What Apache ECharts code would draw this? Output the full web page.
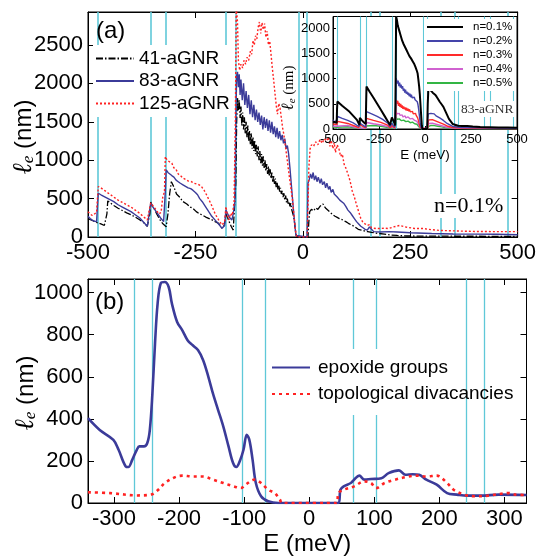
<!DOCTYPE html>
<html><head><meta charset="utf-8">
<script src="https://cdn.jsdelivr.net/npm/echarts@6/dist/echarts.min.js"></script>
<style>html,body{margin:0;padding:0;background:#fff}#c{width:539px;height:557px}</style>
</head><body><div id="c"></div>
<script>
// ---------- data (E in meV, l_e in nm) ----------
const cyanA = [-478, -354, -320, -179, -157, -10, 10, 157, 179, 320, 354, 478];
const cyanB = [-269, -241, -103, -67, 67, 103, 241, 269];
const ticksB = [-300, -200, -100, 0, 100, 200, 300];

const s41 = [[-500,240],[-490,215],[-480,190],[-470,170],[-462,150],[-458,140],[-456,300],[-454,470],[-450,450],[-440,410],[-430,375],[-420,345],[-410,315],[-400,290],[-390,260],[-380,225],[-370,185],[-362,140],[-358,115],[-356,300],[-354,455],[-350,400],[-345,360],[-340,300],[-335,250],[-330,200],[-325,170],[-318,134],[-314,300],[-310,560],[-306,720],[-300,650],[-294,560],[-287,520],[-279,461],[-270,430],[-262,390],[-256,374],[-248,330],[-240,300],[-234,287],[-226,260],[-218,240],[-211,222],[-204,200],[-196,178],[-188,113],[-183,150],[-179,300],[-175,250],[-170,180],[-166,130],[-162,90],[-158,110],[-156,700],[-154,1500],[-152,1810],[-150,1650],[-148,1780],[-146,1550],[-144,1700],[-142,1450],[-140,1620],[-138,1400],[-136,1560],[-134,1350],[-132,1500],[-130,1300],[-128,1450],[-126,1250],[-124,1380],[-122,1200],[-120,1350],[-118,1150],[-116,1300],[-114,1120],[-112,1260],[-110,1080],[-108,1200],[-106,1050],[-104,1180],[-102,1000],[-100,1120],[-98,960],[-96,1080],[-94,930],[-92,1050],[-90,900],[-88,1000],[-86,860],[-84,950],[-82,820],[-80,920],[-78,790],[-76,880],[-74,760],[-72,840],[-70,720],[-68,800],[-66,690],[-64,760],[-62,650],[-60,720],[-58,620],[-56,680],[-54,590],[-52,640],[-50,560],[-48,600],[-46,520],[-44,570],[-42,480],[-40,540],[-38,450],[-36,500],[-34,420],[-32,460],[-30,400],[-28,440],[-26,360],[-24,380],[-22,280],[-20,220],[-18,120],[-16,40],[-14,0],[12,0],[14,200],[16,330],[20,360],[25,340],[30,380],[35,360],[40,400],[44,380],[47,430],[50,400],[54,370],[58,350],[62,330],[66,310],[70,290],[75,270],[80,255],[85,240],[90,230],[95,215],[100,200],[106,178],[112,160],[121,134],[129,100],[136,91],[145,75],[151,70],[160,60],[174,48],[190,38],[204,26],[220,20],[242,13],[300,12],[350,10],[400,10],[450,8],[500,8]];

const s83 = [[-500,270],[-495,240],[-490,220],[-485,205],[-480,200],[-478,400],[-476,570],[-470,550],[-460,520],[-450,490],[-440,460],[-430,420],[-420,390],[-410,360],[-400,330],[-390,290],[-380,250],[-370,190],[-362,140],[-358,120],[-354,440],[-350,400],[-345,360],[-340,320],[-335,280],[-330,240],[-324,200],[-320,600],[-318,875],[-314,840],[-310,850],[-305,800],[-300,780],[-295,740],[-290,720],[-285,700],[-279,680],[-273,660],[-267,640],[-261,630],[-256,610],[-250,580],[-245,550],[-240,500],[-234,460],[-227,400],[-219,330],[-212,270],[-204,220],[-196,170],[-188,113],[-182,150],[-179,350],[-175,300],[-170,250],[-165,222],[-162,300],[-158,460],[-156,1500],[-154,2100],[-152,2150],[-150,1950],[-148,2120],[-146,1850],[-144,2050],[-141,1780],[-138,2000],[-135,1720],[-132,1900],[-129,1680],[-126,1850],[-123,1600],[-120,1780],[-117,1560],[-114,1720],[-111,1520],[-108,1660],[-105,1500],[-102,1620],[-99,1460],[-96,1580],[-93,1400],[-90,1560],[-87,1420],[-84,1540],[-81,1380],[-78,1520],[-75,1360],[-72,1500],[-69,1340],[-66,1440],[-63,1300],[-60,1420],[-57,1280],[-54,1380],[-51,1260],[-48,1330],[-45,1220],[-42,1280],[-39,1150],[-36,1190],[-33,1080],[-30,900],[-27,700],[-24,500],[-21,300],[-18,120],[-16,20],[-14,0],[10,0],[12,700],[15,750],[18,820],[21,760],[24,840],[27,740],[30,800],[33,720],[36,780],[40,700],[43,760],[46,680],[50,720],[53,640],[56,700],[60,620],[63,660],[66,580],[70,620],[73,560],[76,580],[80,520],[83,540],[86,480],[90,500],[95,440],[100,400],[105,350],[110,320],[115,280],[120,240],[125,200],[130,170],[135,140],[140,120],[145,100],[150,90],[155,130],[158,110],[165,70],[180,65],[200,70],[220,65],[250,55],[300,45],[350,40],[400,38],[450,35],[500,30]];

const s125 = [[-500,330],[-495,300],[-490,280],[-485,300],[-480,320],[-478,500],[-476,657],[-470,640],[-460,600],[-450,560],[-440,520],[-430,480],[-420,450],[-410,420],[-400,390],[-390,350],[-380,310],[-370,260],[-362,222],[-358,210],[-354,443],[-350,420],[-345,380],[-340,340],[-335,300],[-330,320],[-326,520],[-322,591],[-320,1048],[-316,1000],[-312,1010],[-305,962],[-300,900],[-295,880],[-290,820],[-285,800],[-279,766],[-273,750],[-267,730],[-260,722],[-253,700],[-247,690],[-241,679],[-235,650],[-230,610],[-226,570],[-218,480],[-211,396],[-204,300],[-196,222],[-188,157],[-182,200],[-179,396],[-176,300],[-172,222],[-168,310],[-164,280],[-160,460],[-157,1500],[-155,3000],[-152,2800],[-150,2300],[-147,2170],[-144,2250],[-140,2200],[-137,2300],[-133,2250],[-130,2340],[-126,2300],[-122,2420],[-119,2380],[-116,2560],[-113,2500],[-110,2620],[-107,2580],[-104,2730],[-101,2800],[-98,2650],[-95,2790],[-92,2700],[-89,2780],[-86,2600],[-83,2680],[-80,2500],[-77,2550],[-74,2380],[-71,2200],[-68,2050],[-65,1880],[-62,1720],[-59,1600],[-56,1740],[-53,1680],[-50,1550],[-47,1420],[-44,1330],[-40,1160],[-36,990],[-32,810],[-28,650],[-24,480],[-20,250],[-17,80],[-14,0],[10,0],[12,400],[14,900],[17,1150],[20,1200],[25,1180],[30,1240],[35,1200],[40,1270],[45,1220],[50,1280],[55,1250],[60,1300],[63,1180],[66,1260],[70,1150],[73,1230],[76,1100],[80,1200],[84,1150],[88,1050],[92,1080],[96,950],[100,900],[105,820],[110,730],[115,600],[120,520],[125,420],[130,330],[135,240],[140,190],[150,150],[155,160],[160,120],[170,110],[180,110],[190,115],[200,110],[210,130],[225,150],[240,130],[260,110],[280,110],[300,95],[320,85],[350,80],[400,72],[450,70],[500,70]];

// inset: 83-aGNR at several concentrations
const n01 = [[-500,150],[-490,130],[-480,120],[-478,400],[-476,545],[-470,520],[-450,460],[-430,400],[-410,340],[-390,260],[-370,180],[-356,80],[-354,220],[-345,180],[-335,140],[-322,100],[-320,500],[-318,840],[-300,735],[-280,620],[-260,500],[-240,380],[-220,260],[-200,140],[-190,80],[-180,230],[-170,150],[-162,70],[-159,1200],[-157,2230],[-152,2150],[-148,2050],[-144,2080],[-140,1950],[-136,1980],[-132,1850],[-128,1880],[-124,1750],[-120,1780],[-116,1680],[-112,1700],[-108,1620],[-104,1640],[-100,1560],[-96,1580],[-92,1500],[-88,1520],[-84,1440],[-80,1460],[-76,1400],[-72,1420],[-68,1350],[-64,1380],[-60,1300],[-56,1320],[-52,1230],[-48,1250],[-44,1150],[-40,1100],[-36,980],[-32,850],[-28,680],[-24,450],[-20,220],[-17,60],[-14,0],[12,0],[15,500],[18,760],[22,740],[27,810],[32,760],[37,780],[42,720],[48,700],[55,680],[63,640],[70,600],[80,540],[90,490],[100,440],[110,360],[120,280],[130,200],[140,150],[150,100],[160,80],[180,65],[200,60],[230,60],[260,50],[300,40],[350,35],[400,30],[450,30],[500,25]];
const n02 = [[-500,180],[-490,120],[-480,100],[-478,200],[-476,250],[-450,210],[-420,170],[-390,120],[-360,50],[-354,120],[-340,80],[-322,40],[-320,250],[-318,343],[-290,300],[-260,250],[-230,190],[-200,110],[-190,50],[-180,110],[-165,40],[-159,500],[-157,1006],[-150,900],[-146,960],[-142,850],[-138,920],[-134,820],[-130,880],[-126,800],[-122,850],[-118,760],[-114,800],[-110,720],[-106,780],[-102,700],[-98,740],[-94,680],[-90,720],[-86,650],[-82,700],[-78,630],[-74,680],[-70,620],[-66,650],[-62,600],[-58,630],[-54,580],[-50,600],[-46,560],[-42,540],[-38,480],[-34,380],[-30,250],[-26,120],[-22,40],[-18,0],[12,0],[15,200],[18,300],[25,290],[32,310],[40,280],[50,300],[60,260],[70,240],[80,220],[90,200],[100,170],[110,140],[120,110],[130,80],[150,50],[200,30],[300,25],[400,20],[500,15]];
const n03 = [[-500,100],[-478,90],[-476,150],[-420,110],[-360,30],[-354,80],[-322,20],[-320,150],[-318,212],[-280,170],[-240,130],[-200,70],[-190,25],[-180,70],[-165,20],[-159,300],[-157,575],[-152,500],[-148,560],[-144,460],[-140,520],[-136,440],[-132,500],[-128,420],[-124,470],[-120,400],[-116,450],[-112,390],[-108,430],[-104,370],[-100,420],[-96,360],[-92,400],[-88,350],[-84,390],[-80,340],[-76,370],[-72,320],[-68,350],[-64,300],[-60,330],[-56,290],[-52,310],[-48,270],[-44,260],[-40,220],[-36,170],[-32,110],[-28,60],[-24,20],[-20,0],[14,0],[17,120],[20,180],[30,170],[40,185],[50,170],[60,155],[70,140],[80,125],[90,110],[100,95],[110,80],[120,60],[130,45],[150,30],[200,20],[300,15],[500,10]];
const n04 = [[-500,60],[-478,55],[-476,90],[-420,70],[-360,20],[-354,50],[-322,15],[-320,90],[-318,130],[-280,105],[-240,80],[-200,45],[-190,15],[-180,40],[-165,15],[-159,180],[-157,343],[-152,300],[-148,330],[-144,280],[-140,310],[-136,270],[-132,300],[-128,250],[-124,280],[-120,240],[-116,270],[-112,230],[-108,260],[-104,220],[-100,250],[-96,215],[-92,240],[-88,205],[-84,230],[-80,200],[-76,220],[-72,190],[-68,210],[-64,180],[-60,200],[-56,170],[-52,185],[-48,160],[-44,150],[-40,130],[-36,100],[-32,70],[-28,35],[-24,10],[-20,0],[14,0],[17,70],[20,110],[30,105],[40,115],[50,105],[60,95],[70,85],[80,75],[90,65],[100,55],[110,45],[120,35],[130,25],[150,18],[200,12],[300,10],[500,8]];
const n05 = [[-500,40],[-478,35],[-476,60],[-420,45],[-360,12],[-354,30],[-322,10],[-320,60],[-318,85],[-280,70],[-240,55],[-200,30],[-190,10],[-180,25],[-165,10],[-159,120],[-157,230],[-152,190],[-148,220],[-144,180],[-140,200],[-136,170],[-132,195],[-128,165],[-124,185],[-120,155],[-116,175],[-112,150],[-108,170],[-104,145],[-100,160],[-96,140],[-92,155],[-88,130],[-84,150],[-80,125],[-76,140],[-72,120],[-68,135],[-64,115],[-60,125],[-56,105],[-52,115],[-48,100],[-44,95],[-40,80],[-36,60],[-32,40],[-28,20],[-24,5],[-20,0],[14,0],[17,45],[20,70],[30,68],[40,75],[50,68],[60,62],[70,55],[80,48],[90,42],[100,35],[110,28],[120,22],[130,16],[150,12],[200,8],[300,6],[500,5]];

// panel (b)
const epoxide = [[-340,403],[-322,347],[-301,300],[-293,253],[-282,174],[-278,171],[-272,205],[-265,253],[-261,269],[-254,269],[-249,284],[-245,347],[-241,521],[-237,758],[-233,948],[-228,1046],[-222,1051],[-216,1027],[-211,948],[-203,861],[-195,821],[-187,774],[-179,750],[-171,727],[-163,679],[-155,600],[-148,521],[-140,442],[-132,363],[-124,269],[-117,190],[-112,171],[-106,205],[-101,253],[-96,324],[-92,300],[-87,205],[-82,95],[-74,32],[-63,8],[-47,0],[45,0],[48,63],[53,79],[64,95],[69,111],[77,130],[85,111],[95,114],[111,118],[122,142],[138,155],[148,134],[159,137],[169,134],[180,111],[196,87],[212,47],[227,40],[243,35],[264,35],[291,40],[334,38]];
const divac = [[-340,51],[-306,47],[-264,36],[-243,40],[-232,63],[-222,95],[-206,123],[-195,130],[-179,126],[-163,126],[-148,111],[-132,95],[-116,79],[-105,71],[-98,87],[-84,111],[-74,95],[-63,63],[-53,47],[-45,16],[-42,0],[42,0],[45,47],[53,63],[69,79],[85,103],[95,95],[103,71],[116,95],[132,111],[148,123],[164,130],[180,126],[196,130],[212,95],[222,63],[238,40],[254,32],[275,35],[307,47],[317,40],[334,38]];

// ---------- styles ----------
const SANS = 'Liberation Sans, Arial, Helvetica, sans-serif';
const SERIF = 'Liberation Serif, Times New Roman, serif';
const CYAN = '#5fc8d8';
const BLUE = '#3b3b99';
const RED = '#ff2222';
const plain = function (v) { return String(v); };

function vlines(list, width, z) {
  return { silent: true, symbol: ['none', 'none'], z: z, label: { show: false },
    lineStyle: { color: CYAN, width: width, type: 'solid' }, emphasis: { disabled: true },
    data: list.map(function (v) { return { xAxis: v }; }) };
}
function line(name, data, xi, yi, color, width, type, z, extra) {
  const s = { type: 'line', name: name, data: data, xAxisIndex: xi, yAxisIndex: yi, symbol: 'none',
    showSymbol: false, lineStyle: { color: color, width: width, type: type }, itemStyle: { color: color },
    z: z, clip: true, animation: false, emphasis: { disabled: true } };
  return Object.assign(s, extra || {});
}
const tickStyle = { inside: true, length: 6, lineStyle: { color: '#000', width: 1 } };
const axLine = { onZero: false, lineStyle: { color: '#000', width: 1 } };
const bigLabel = { fontSize: 22, color: '#000', fontFamily: SANS, fontWeight: 'normal', formatter: plain };

const option = {
  animation: false,
  backgroundColor: '#fff',
  grid: [
    { left: 88, top: 12, width: 443, height: 225, show: true, borderColor: '#000', borderWidth: 1, backgroundColor: 'transparent' },
    { left: 333, top: 16.5, width: 184, height: 112.5, show: true, borderColor: '#000', borderWidth: 1, backgroundColor: '#fff', z: 50 },
    { left: 88, top: 279, width: 438.5, height: 224, show: true, borderColor: '#000', borderWidth: 1, backgroundColor: 'transparent' }
  ],
  xAxis: [
    { gridIndex: 0, type: 'value', min: -500, max: 500, interval: 250, axisLine: axLine, axisTick: tickStyle,
      axisLabel: Object.assign({ margin: 5 }, bigLabel), splitLine: { show: false } },
    { gridIndex: 0, type: 'value', position: 'top', min: -500, max: 500, interval: 250, axisLine: axLine, axisTick: tickStyle,
      axisLabel: { show: false }, splitLine: { show: false } },
    { gridIndex: 1, type: 'value', min: -500, max: 500, interval: 250, z: 60, axisLine: axLine,
      axisTick: { inside: true, length: 3, lineStyle: { color: '#000' } },
      axisLabel: { fontSize: 13, color: '#000', fontFamily: SANS, margin: 4, formatter: plain }, splitLine: { show: false },
      name: 'E (meV)', nameLocation: 'middle', nameGap: 19, nameTextStyle: { fontSize: 13.5, color: '#000', fontFamily: SANS } },
    { gridIndex: 2, type: 'value', min: -340, max: 334, axisLine: axLine,
      axisTick: Object.assign({ customValues: ticksB }, tickStyle),
      axisLabel: Object.assign({ margin: 5, customValues: ticksB }, bigLabel), splitLine: { show: false },
      name: 'E (meV)', nameLocation: 'middle', nameGap: 29, nameTextStyle: { fontSize: 24, color: '#000', fontFamily: SANS } },
    { gridIndex: 2, type: 'value', position: 'top', min: -340, max: 334, axisLine: axLine,
      axisTick: Object.assign({ customValues: ticksB }, tickStyle), axisLabel: { show: false }, splitLine: { show: false } }
  ],
  yAxis: [
    { gridIndex: 0, type: 'value', min: 0, max: 2930, interval: 500, axisLine: axLine, axisTick: tickStyle,
      axisLabel: Object.assign({ margin: 5, showMaxLabel: false }, bigLabel), splitLine: { show: false } },
    { gridIndex: 0, type: 'value', position: 'right', min: 0, max: 2930, interval: 500, axisLine: axLine, axisTick: tickStyle,
      axisLabel: { show: false }, splitLine: { show: false } },
    { gridIndex: 1, type: 'value', min: 0, max: 2230, interval: 500, z: 60, axisLine: axLine,
      axisTick: { inside: true, length: 3, lineStyle: { color: '#000' } },
      axisLabel: { fontSize: 13, color: '#000', fontFamily: SANS, margin: 3, formatter: plain, showMaxLabel: false }, splitLine: { show: false } },
    { gridIndex: 2, type: 'value', min: 0, max: 1065, interval: 200, axisLine: axLine, axisTick: tickStyle,
      axisLabel: Object.assign({ margin: 5, showMaxLabel: false }, bigLabel), splitLine: { show: false } },
    { gridIndex: 2, type: 'value', position: 'right', min: 0, max: 1065, interval: 200, axisLine: axLine, axisTick: tickStyle,
      axisLabel: { show: false }, splitLine: { show: false } }
  ],
  legend: [
    { data: ['41-aGNR', '83-aGNR', '125-aGNR'], orient: 'vertical', left: 93, top: 45, itemWidth: 38, itemHeight: 10,
      itemGap: 3.5, padding: [4, 2, 4, 2], backgroundColor: '#fff', z: 10, selectedMode: false,
      itemStyle: { opacity: 0 }, textStyle: { fontSize: 19, color: '#000', fontFamily: SANS } },
    { data: ['n=0.1%', 'n=0.2%', 'n=0.3%', 'n=0.4%', 'n=0.5%'], orient: 'vertical', left: 424, top: 19, itemWidth: 36, itemHeight: 8,
      itemGap: 2, padding: [2, 2, 2, 2], backgroundColor: '#fff', z: 70, selectedMode: false,
      itemStyle: { opacity: 0 }, textStyle: { fontSize: 11.5, color: '#000', fontFamily: SANS, padding: [0, 0, 0, 5] } },
    { data: ['epoxide groups', 'topological divacancies'], orient: 'vertical', left: 271, top: 358, itemWidth: 38, itemHeight: 10,
      itemGap: 7.5, padding: 0, z: 10, selectedMode: false,
      itemStyle: { opacity: 0 }, textStyle: { fontSize: 19, color: '#000', fontFamily: SANS, padding: [0, 0, 0, 3] } }
  ],
  title: [
    { text: '(a)', left: 96, top: 19, padding: 0, textStyle: { fontSize: 24, fontWeight: 'normal', color: '#000', fontFamily: SANS } },
    { text: '(b)', left: 95, top: 290, padding: 0, textStyle: { fontSize: 24, fontWeight: 'normal', color: '#000', fontFamily: SANS } },
    { text: 'n=0.1%', left: 432, top: 194, padding: [1, 2, 1, 2], backgroundColor: '#fff', z: 10,
      textStyle: { fontSize: 22, fontWeight: 'normal', color: '#000', fontFamily: SERIF } },
    { text: '83-aGNR', left: 460, top: 101, padding: [1, 1, 1, 1], backgroundColor: '#fff', z: 70,
      textStyle: { fontSize: 13.5, fontWeight: 'normal', color: '#333', fontFamily: SERIF } }
  ],
  graphic: [
    { type: 'rect', shape: { x: 268, y: 349, width: 172, height: 66 }, style: { fill: '#fff' }, z: 6, silent: true },
    { type: 'text', x: 24, y: 137, rotation: Math.PI / 2, z: 10, silent: true,
      style: { text: '{l|ℓ}{e|e} (nm)', fontSize: 24, fontFamily: SANS, fill: '#000', align: 'center', verticalAlign: 'middle',
        rich: { l: { fontSize: 27, fontStyle: 'italic', fontFamily: SERIF }, e: { fontSize: 17, fontStyle: 'italic', fontFamily: SERIF, padding: [10, 0, 0, 0] } } } },
    { type: 'text', x: 289, y: 88, rotation: Math.PI / 2, z: 70, silent: true,
      style: { text: '{l|ℓ}{e|e} (nm)', fontSize: 15, fontFamily: SERIF, fill: '#000', align: 'center', verticalAlign: 'middle',
        rich: { l: { fontSize: 17, fontStyle: 'italic', fontFamily: SERIF }, e: { fontSize: 11, fontStyle: 'italic', fontFamily: SERIF, padding: [6, 0, 0, 0] } } } },
    { type: 'text', x: 26, y: 393, rotation: Math.PI / 2, z: 10, silent: true,
      style: { text: '{l|ℓ}{e|e} (nm)', fontSize: 24, fontFamily: SANS, fill: '#000', align: 'center', verticalAlign: 'middle',
        rich: { l: { fontSize: 27, fontStyle: 'italic', fontFamily: SERIF }, e: { fontSize: 17, fontStyle: 'italic', fontFamily: SERIF, padding: [10, 0, 0, 0] } } } }
  ],
  series: [
    line('41-aGNR', s41, 0, 0, '#000', 1.3, [7, 2, 1.5, 2], 3, { markLine: vlines(cyanA, 1.6, 1) }),
    line('83-aGNR', s83, 0, 0, BLUE, 1.4, 'solid', 3),
    line('125-aGNR', s125, 0, 0, RED, 1.4, [2, 2], 3),
    line('n=0.1%', n01, 2, 2, '#000', 2, 'solid', 64, { markLine: vlines(cyanA, 1.1, 55) }),
    line('n=0.2%', n02, 2, 2, '#4444aa', 1.4, 'solid', 63),
    line('n=0.3%', n03, 2, 2, '#ff2a2a', 1.4, 'solid', 62),
    line('n=0.4%', n04, 2, 2, '#d062d0', 1.4, 'solid', 61),
    line('n=0.5%', n05, 2, 2, '#33b544', 1.4, 'solid', 60),
    line('epoxide groups', epoxide, 3, 3, BLUE, 2.6, 'solid', 3, { smooth: 0.35, markLine: vlines(cyanB, 1.3, 1) }),
    line('topological divacancies', divac, 3, 3, RED, 2.6, [3, 4], 4, { smooth: 0.35 })
  ]
};
const chart = echarts.init(document.getElementById('c'), null, { renderer: 'canvas' });
chart.setOption(option);
</script></body></html>
